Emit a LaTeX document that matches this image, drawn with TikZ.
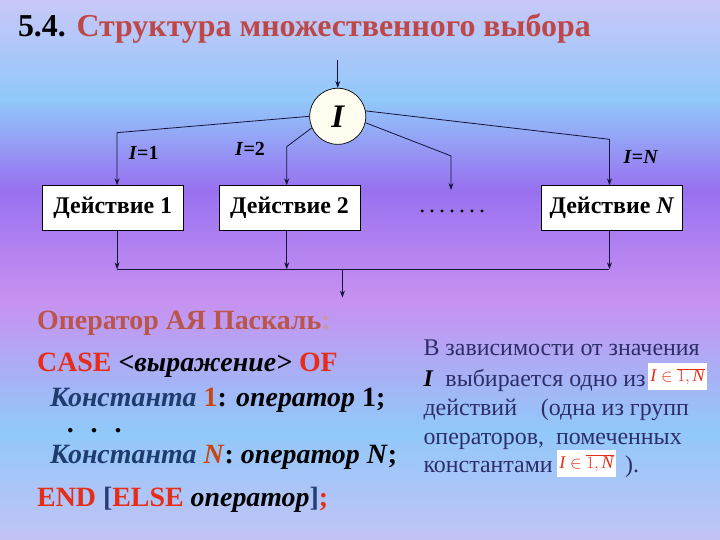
\documentclass[tikz,border=0pt]{standalone}
\usepackage{fontspec}
\setmainfont{Liberation Serif}
\usepackage{xcolor}
\usepackage{tikz}
\usetikzlibrary{arrows.meta, positioning, calc}

\definecolor{bgtop}{RGB}{200,200,248}
\definecolor{bgsky}{RGB}{145,200,250}
\definecolor{bgviolet}{RGB}{152,112,240}
\definecolor{bgpink}{RGB}{200,145,240}
\definecolor{bgbottom}{RGB}{195,195,245}
\definecolor{titlered}{RGB}{190,72,72}
\definecolor{opred}{RGB}{185,85,75}
\definecolor{oppale}{RGB}{205,150,165}
\definecolor{codered}{RGB}{230,45,25}
\definecolor{consblue}{RGB}{30,60,110}
\definecolor{numorange}{RGB}{200,70,20}
\definecolor{brackblue}{RGB}{40,60,120}
\definecolor{notecol}{RGB}{45,45,105}
\definecolor{linecol}{RGB}{20,20,60}
\definecolor{cream}{RGB}{255,252,240}

\pgfdeclareverticalshading{slidebg}{100bp}{color(0bp)=(bgbottom); color(25bp)=(bgbottom);
    color(35.19bp)=(bgsky); color(47.22bp)=(bgpink); color(57.41bp)=(bgviolet);
    color(65.74bp)=(bgsky); color(75bp)=(bgtop); color(100bp)=(bgtop)}

\begin{document}
\begin{tikzpicture}[
        >={Stealth[length=7pt, width=5pt]},
        box/.style={draw, rectangle, fill=white, line width=0.7pt,
            minimum width=4.97cm, minimum height=1.59cm, inner sep=0pt,
            font=\fontsize{24}{28}\selectfont\bfseries},
        selector/.style={draw, circle, fill=cream, line width=0.7pt,
            minimum size=1.98cm, inner sep=0pt,
            font=\fontsize{33}{36}\selectfont\bfseries\itshape},
        line/.style={draw, ->, color=linecol, line width=0.8pt},
        wire/.style={draw, color=linecol, line width=0.8pt},
        case/.style={font=\fontsize{20}{24}\selectfont\bfseries},
        code/.style={anchor=base west, inner sep=0pt,
            font=\fontsize{28}{32}\selectfont\bfseries},
        note/.style={anchor=base west, inner sep=0pt, text=notecol,
            font=\fontsize{24}{28}\selectfont},
        setbox/.style={fill=white, inner sep=0pt, minimum width=2.05cm,
            minimum height=0.95cm, text=codered,
            font=\fontsize{18}{20}\selectfont},
    ]

    % 0. Slide background
    \useasboundingbox (0,0) rectangle (25.4,-19.05);
    \shade[shading=slidebg] (0,0) rectangle (25.4,-19.05);

    % 1. Title
    \node[anchor=base west, inner sep=0pt,
          font=\fontsize{32}{36}\selectfont\bfseries] (title) at (0.63,-1.3)
        {5.4. \textcolor{titlered}{Структура множественного выбора}};

    % 2. Selector
    \coordinate (in) at (11.915,-2.117);
    \node[selector] (sel) at (11.915,-4.103) {I};

    % 3. Actions
    \node[box] (act1) at (3.98,-7.345) {Действие 1};
    \node[box, right=1.24cm of act1] (act2) {Действие 2};
    \node[inner sep=0pt, font=\fontsize{24}{28}\selectfont] (dots)
        at (15.95,-7.45) {.\,.\,.\,.\,.\,.\,.};
    \node[box] (actN) at (21.59,-7.345) {Действие \textit{N}};

    % branch corners
    \coordinate (c1) at (4.13,-4.68);
    \coordinate (c2) at (10.115,-5.175);
    \coordinate (c3) at (15.91,-5.50);
    \coordinate (c3end) at (15.91,-6.70);
    \coordinate (cN) at (21.50,-4.915);

    \node[case] (lab1) at (5.07,-5.39) {\textit{I}=1};
    \node[case] (lab2) at (8.82,-5.27) {\textit{I}=2};
    \node[case] (labN) at (22.61,-5.54) {\textit{I}=\textit{N}};

    % 4. Join
    \coordinate (join) at (12.08,-9.50);
    \coordinate (out) at (12.08,-10.50);

    % --- Arrows ---
    \path[line] (in) -- (sel);
    \path[line] (sel.180) -- (c1) -- (c1 |- act1.north);
    \path[line] (sel.204) -- (c2) -- (c2 |- act2.north);
    \path[line] (sel.-13) -- (c3) -- (c3end);
    \path[line] (sel.11) -- (cN) -- (cN |- actN.north);
    \path[line] (act1.south -| c1) -- (c1 |- join);
    \path[line] (act2.south -| c2) -- (c2 |- join);
    \path[line] (actN.south -| cN) -- (cN |- join);
    \path[wire] (c1 |- join) -- (cN |- join);
    \path[line] (join) -- (out);

    % 5. Pascal code
    \node[code, text=opred] (op) at (1.305,-11.607)
        {Оператор АЯ Паскаль\textcolor{oppale}{:}};
    \node[code] (caseln) at (1.305,-13.113)
        {\textcolor{codered}{CASE} \textit{<выражение>} \textcolor{codered}{OF}};
    \node[code] (const1) at (1.764,-14.348)
        {\textcolor{consblue}{\textit{Константа}} \textcolor{numorange}{1}: \textit{оператор} 1;};
    \node[code] (skip) at (2.35,-15.24)
        {.\hspace{17pt}.\hspace{17pt}.};
    \node[code] (constN) at (1.764,-16.345)
        {\textcolor{consblue}{\textit{Константа}} \textcolor{numorange}{\textit{N}}: \textit{оператор N};};
    \node[code] (endln) at (1.305,-17.876)
        {\textcolor{codered}{END} \textcolor{brackblue}{[}\textcolor{codered}{ELSE}
         \textit{оператор}\textcolor{brackblue}{]}\textcolor{codered}{;}};

    % 6. Note
    \node[note] (note1) at (14.934,-12.524) {В зависимости от значения};
    \node[note] (note2) at (14.934,-13.618)
        {\textcolor{black}{\textbf{\textit{I}}}\ \ выбирается одно из};
    \node[note] (note3) at (14.934,-14.641) {действий\quad(одна из групп};
    \node[note] (note4) at (14.934,-15.664) {операторов,\ \ помеченных};
    \node[note] (note5) at (14.934,-16.669) {константами};
    \node[note] (close) at (22.05,-16.669) {).};
    \node[setbox] (set1) at (23.90,-13.29) {$\textit{I}\in\overline{1,\textit{N}}$};
    \node[setbox] (set2) at (20.69,-16.35) {$\textit{I}\in\overline{1,\textit{N}}$};

\end{tikzpicture}
\end{document}
